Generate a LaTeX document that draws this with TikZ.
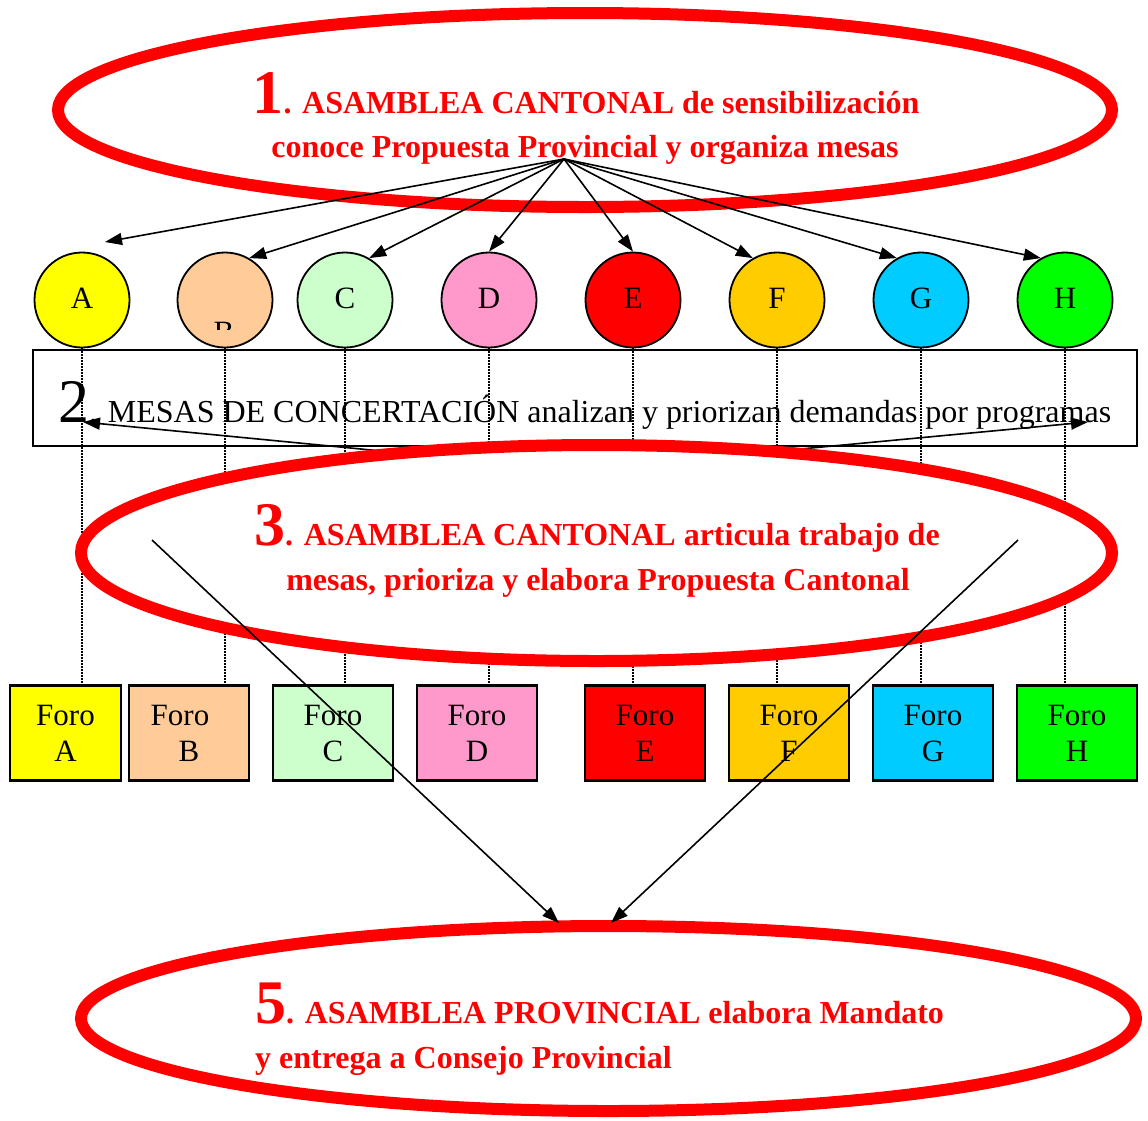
\documentclass[tikz,border=0pt]{standalone}
\usepackage{fontspec}
\setmainfont{Liberation Serif}
\usetikzlibrary{arrows.meta,shapes.geometric}
\definecolor{cA}{HTML}{FFFF00}
\definecolor{cB}{HTML}{FFCC99}
\definecolor{cC}{HTML}{CCFFCC}
\definecolor{cD}{HTML}{FF99CC}
\definecolor{cE}{HTML}{FF0000}
\definecolor{cF}{HTML}{FFCC00}
\definecolor{cG}{HTML}{00CCFF}
\definecolor{cH}{HTML}{00FF00}
\newcommand{\bignum}[1]{{\fontsize{62}{62}\selectfont #1}}
\newcommand{\circlbl}[1]{\raisebox{3pt}{#1}}
\begin{document}
\begin{tikzpicture}[x=1pt,y=-1pt,
  bigell/.style={ellipse, draw=red, line width=12pt, fill=white, inner sep=0pt},
  redtxt/.style={text=red, font=\fontsize{32}{36}\selectfont\bfseries, anchor=base, inner sep=0pt},
  mesa/.style={circle, draw=black, line width=1.8pt, minimum size=95pt, inner sep=0pt, font=\fontsize{31}{36}\selectfont},
  forobox/.style={draw=black, line width=2.2pt, minimum height=95pt, align=center, inner sep=0pt, font=\fontsize{31}{36}\selectfont},
  dotline/.style={line width=1.5pt, dash pattern=on 1.5pt off 1.5pt},
  arr/.style={-{Triangle[length=17pt,width=12pt]}, line width=1.6pt}]
\useasboundingbox (0,0) rectangle (1148,1120);

% ellipse 5 (bottom)
\node[bigell, minimum width=1055pt, minimum height=185pt] (e5) at (608.5,1018.5) {};
\node[redtxt, anchor=base west] (t5a) at (255,1023) {\bignum{5}. ASAMBLEA PROVINCIAL elabora Mandato};
\node[redtxt, anchor=base west] (t5b) at (255,1068) {y entrega a Consejo Provincial};

% box 2
\node[draw=black, line width=1.5pt, minimum width=1104pt, minimum height=96pt, inner sep=0pt] (m2) at (585,398) {};
\node[anchor=base west, inner sep=0pt, font=\fontsize{32}{36}\selectfont] (t2) at (58,422) {\bignum{2}. MESAS DE CONCERTACIÓN analizan y priorizan demandas por programas};

% circles
\node[mesa, fill=cA] (A) at (82,300) {\circlbl{A}};
\node[mesa, fill=cB] (B) at (225,300) {};
\node[mesa, fill=cC] (C) at (345,300) {\circlbl{C}};
\node[mesa, fill=cD] (D) at (489,300) {\circlbl{D}};
\node[mesa, fill=cE] (E) at (633,300) {\circlbl{E}};
\node[mesa, fill=cF] (F) at (777,300) {\circlbl{F}};
\node[mesa, fill=cG] (G) at (921,300) {\circlbl{G}};
\node[mesa, fill=cH] (H) at (1065,300) {\circlbl{H}};
\begin{scope}
\clip (177,250) rectangle (273,329);
\node[anchor=base, inner sep=0pt, font=\fontsize{31}{36}\selectfont] (Bl) at (224,342) {B};
\end{scope}

% foros
\node[forobox, fill=cA, minimum width=111pt] (fA) at (65.5,733) {Foro\\A};
\node[forobox, fill=cB, minimum width=120pt] (fB) at (189,733) {Foro\hspace*{18pt}\\B};
\node[forobox, fill=cC, minimum width=120pt] (fC) at (333,733) {Foro\\C};
\node[forobox, fill=cD, minimum width=120pt] (fD) at (477,733) {Foro\\D};
\node[forobox, fill=cE, minimum width=120pt] (fE) at (645,733) {Foro\\E};
\node[forobox, fill=cF, minimum width=120pt] (fF) at (789,733) {Foro\\F};
\node[forobox, fill=cG, minimum width=120pt] (fG) at (933,733) {Foro\\G};
\node[forobox, fill=cH, minimum width=120pt] (fH) at (1077,733) {Foro\\H};

% dotted links
\foreach \m in {A,B,C,D,E,F,G,H}{
  \draw[dotline] (\m.south) -- (\m.south |- f\m.north);
}

% arrows from stage 3 to mesas (hidden origin)
\coordinate (s3) at (577,470);
\coordinate (m2L) at (83,422);
\coordinate (m2R) at (1088,422);
\draw[arr] (s3) -- (m2L);
\draw[arr] (s3) -- (m2R);

% ellipse 3
\node[bigell, minimum width=1031pt, minimum height=216pt] (e3) at (596.5,553) {};
\node[redtxt] (t3a) at (597,545) {\bignum{3}. ASAMBLEA CANTONAL articula trabajo de};
\node[redtxt] (t3b) at (598,590) {mesas, prioriza y elabora Propuesta Cantonal};
\coordinate (s3L) at (152,540);
\coordinate (s3R) at (1018,540);
\coordinate (e5L) at (559,923);
\coordinate (e5R) at (611,923);
\draw[arr] (s3L) -- (e5L);
\draw[arr] (s3R) -- (e5R);

% ellipse 1
\node[bigell, minimum width=1054pt, minimum height=194pt] (e1) at (585,110) {};
\node[redtxt] (t1a) at (586,113) {\bignum{1}. ASAMBLEA CANTONAL de sensibilización};
\node[redtxt] (t1b) at (585,157) {conoce Propuesta Provincial y organiza mesas};
\coordinate (s1) at (564,159);
\coordinate (tA) at (105,242);
\draw[arr] (s1) -- (tA);
\draw[arr] (s1) -- (B.60);
\draw[arr] (s1) -- (C.60);
\draw[arr] (s1) -- (D.90);
\draw[arr] (s1) -- (E.90);
\draw[arr] (s1) -- (F.120);
\draw[arr] (s1) -- (G.120);
\draw[arr] (s1) -- (H.120);
\end{tikzpicture}
\end{document}
